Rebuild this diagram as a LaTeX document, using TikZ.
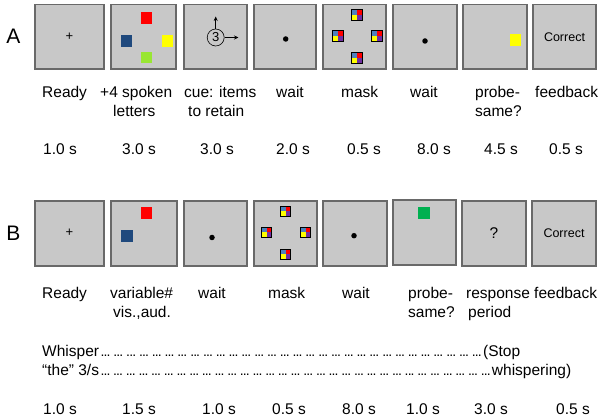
\documentclass[tikz,border=0pt]{standalone}
\usepackage{fontspec}
\setmainfont{Liberation Sans}
\usetikzlibrary{arrows.meta}
\definecolor{boxfill}{RGB}{200,200,200}
\definecolor{boxedge}{RGB}{105,105,105}
\definecolor{sqred}{RGB}{255,0,0}
\definecolor{sqblue}{RGB}{31,73,125}
\definecolor{sqyellow}{RGB}{255,255,0}
\definecolor{sqlime}{RGB}{153,230,51}
\definecolor{sqgreen}{RGB}{0,176,80}
\definecolor{mkblue}{RGB}{79,129,189}
\definecolor{mkpurple}{RGB}{112,48,160}
\newcommand\grpdots{\xleaders\hbox to 12.5pt{\hss\fontsize{14}{14}\selectfont.\kern-0.9pt.\kern-0.9pt.\hss}\hfill}
\begin{document}
\begin{tikzpicture}[x=1pt,y=-1pt,
  panel/.style={rectangle, draw=boxedge, fill=boxfill, line width=1.3pt, inner sep=0pt},
  lbl/.style={inner sep=0pt, anchor=base west, font=\fontsize{15.5}{18}\selectfont},
  sq/.style={rectangle, inner sep=0pt, draw=none, minimum size=11.5pt},
  dotmark/.style={circle, fill=black, inner sep=0pt, minimum size=5.5pt},
  letter/.style={inner sep=0pt, font=\fontsize{21}{21}\selectfont},
  fix/.style={inner sep=0pt, font=\fontsize{13}{13}\selectfont},
  correct/.style={inner sep=0pt, font=\fontsize{12.5}{13}\selectfont},
  cuearrow/.style={-{Stealth[length=4.5pt,width=4pt]}, line width=0.7pt},
  maskicon/.pic={
    \fill[mkblue] (-5.25,-5.25) rectangle (0,0);
    \fill[sqred] (0,-5.25) rectangle (5.25,0);
    \fill[sqyellow] (-5.25,0) rectangle (0,5.25);
    \fill[mkpurple] (0,0) rectangle (5.25,5.25);
    \draw[line width=0.6pt] (-5.25,-5.25) rectangle (5.25,5.25);
  }
]
\useasboundingbox (0,0) rectangle (604,419);

% ---------- Panel A ----------
\node[letter] (labA) at (13.5,36) {A};
\node[panel, minimum width=69pt, minimum height=64.5pt] (a1) at (69.5,36.75) {};
\node[panel, minimum width=65pt, minimum height=64.5pt] (a2) at (143.5,36.75) {};
\node[panel, minimum width=63pt, minimum height=64.5pt] (a3) at (215.5,36.75) {};
\node[panel, minimum width=62pt, minimum height=64.5pt] (a4) at (285,36.75) {};
\node[panel, minimum width=63pt, minimum height=64.5pt] (a5) at (354.5,36.75) {};
\node[panel, minimum width=64pt, minimum height=64.5pt] (a6) at (425,36.75) {};
\node[panel, minimum width=64pt, minimum height=64.5pt] (a7) at (495,36.75) {};
\node[panel, minimum width=63pt, minimum height=64.5pt] (a8) at (564.5,36.75) {};

\node[fix] (a1p) at (69.5,37) {+};
\node[sq, fill=sqred] (a2r) at (146.5,18) {};
\node[sq, fill=sqblue] (a2b) at (126.5,41) {};
\node[sq, fill=sqyellow] (a2y) at (167.5,41) {};
\node[sq, fill=sqlime] (a2g) at (146.5,57.5) {};
\node[circle, draw, line width=0.6pt, minimum size=17pt, inner sep=0pt,
      font=\fontsize{13}{13}\selectfont] (cue) at (215.7,37.5) {3};
\coordinate (cueup) at (215.7,16.5);
\coordinate (cueright) at (238.5,37.5);
\draw[cuearrow] (cue) -- (cueup);
\draw[cuearrow] (cue) -- (cueright);
\node[dotmark] (a4d) at (285.7,39) {};
\pic at (357,15) {maskicon};
\pic at (338,36) {maskicon};
\pic at (377,36) {maskicon};
\pic at (357,58) {maskicon};
\node[dotmark] (a6d) at (425,41) {};
\node[sq, fill=sqyellow] (a7y) at (515.5,40) {};
\node[correct] (a8t) at (564.5,37) {Correct};

\node[lbl] (la1) at (42,98) {Ready};
\node[lbl] (la2) at (100,98) {+4 spoken};
\node[lbl] (la2b) at (113,116.7) {letters};
\node[lbl] (la3) at (184,98) {cue: items};
\node[lbl] (la3b) at (188,116.7) {to retain};
\node[lbl] (la4) at (276,98) {wait};
\node[lbl] (la5) at (341,98) {mask};
\node[lbl] (la6) at (410,98) {wait};
\node[lbl] (la7) at (475,98) {probe-};
\node[lbl] (la7b) at (475,116.7) {same?};
\node[lbl] (la8) at (535,98) {feedback};

\node[lbl] (ta1) at (43,155) {1.0 s};
\node[lbl] (ta2) at (122,155) {3.0 s};
\node[lbl] (ta3) at (200,155) {3.0 s};
\node[lbl] (ta4) at (276,155) {2.0 s};
\node[lbl] (ta5) at (347,155) {0.5 s};
\node[lbl] (ta6) at (417,155) {8.0 s};
\node[lbl] (ta7) at (484,155) {4.5 s};
\node[lbl] (ta8) at (549,155) {0.5 s};

% ---------- Panel B ----------
\node[letter] (labB) at (13.5,233) {B};
\node[panel, minimum width=69pt, minimum height=65pt] (b1) at (69.5,233.5) {};
\node[panel, minimum width=66pt, minimum height=65pt] (b2) at (144,233.5) {};
\node[panel, minimum width=63pt, minimum height=65pt] (b3) at (215.5,233.5) {};
\node[panel, minimum width=63pt, minimum height=65pt] (b4) at (285.5,233.5) {};
\node[panel, minimum width=64pt, minimum height=65pt] (b5) at (355,233.5) {};
\node[panel, minimum width=63pt, minimum height=65pt] (b6) at (424.5,232.5) {};
\node[panel, minimum width=64pt, minimum height=65pt] (b7) at (494,233.5) {};
\node[panel, minimum width=64pt, minimum height=65pt] (b8) at (564,233.5) {};

\node[fix] (b1p) at (69.5,233) {+};
\node[sq, fill=sqred] (b2r) at (146.5,213) {};
\node[sq, fill=sqblue, minimum size=12pt] (b2b) at (126.5,236) {};
\node[dotmark] (b3d) at (212,237.5) {};
\pic at (285.5,211.5) {maskicon};
\pic at (266.5,232.5) {maskicon};
\pic at (305.5,232.5) {maskicon};
\pic at (285.5,254.5) {maskicon};
\node[dotmark] (b5d) at (354,235.7) {};
\node[sq, fill=sqgreen, minimum size=12pt] (b6g) at (424,213) {};
\node[inner sep=0pt, font=\fontsize{15.5}{16}\selectfont] (b7q) at (494,233) {?};
\node[correct] (b8t) at (564,233) {Correct};

\node[lbl] (lb1) at (42,298.3) {Ready};
\node[lbl] (lb2) at (110,298.3) {variable\#};
\node[lbl] (lb2b) at (113,317.7) {vis.,aud.};
\node[lbl] (lb3) at (198,298.3) {wait};
\node[lbl] (lb4) at (268,298.3) {mask};
\node[lbl] (lb5) at (342,298.3) {wait};
\node[lbl] (lb6) at (408,298.3) {probe-};
\node[lbl] (lb6b) at (408,317.7) {same?};
\node[lbl] (lb7) at (466,298.3) {response};
\node[lbl] (lb7b) at (468,317.7) {period};
\node[lbl] (lb8) at (534,298.3) {feedback};

\node[lbl] (wh1) at (42,356.7) {\makebox[478pt][l]{Whisper\grpdots(Stop}};
\node[lbl] (wh2) at (42,375.5) {\makebox[529pt][l]{“the” 3/s\grpdots whispering)}};

\node[lbl] (tb1) at (43,414) {1.0 s};
\node[lbl] (tb2) at (122,414) {1.5 s};
\node[lbl] (tb3) at (202,414) {1.0 s};
\node[lbl] (tb4) at (272,414) {0.5 s};
\node[lbl] (tb5) at (342,414) {8.0 s};
\node[lbl] (tb6) at (406,414) {1.0 s};
\node[lbl] (tb7) at (474,414) {3.0 s};
\node[lbl] (tb8) at (556,414) {0.5 s};
\end{tikzpicture}
\end{document}
